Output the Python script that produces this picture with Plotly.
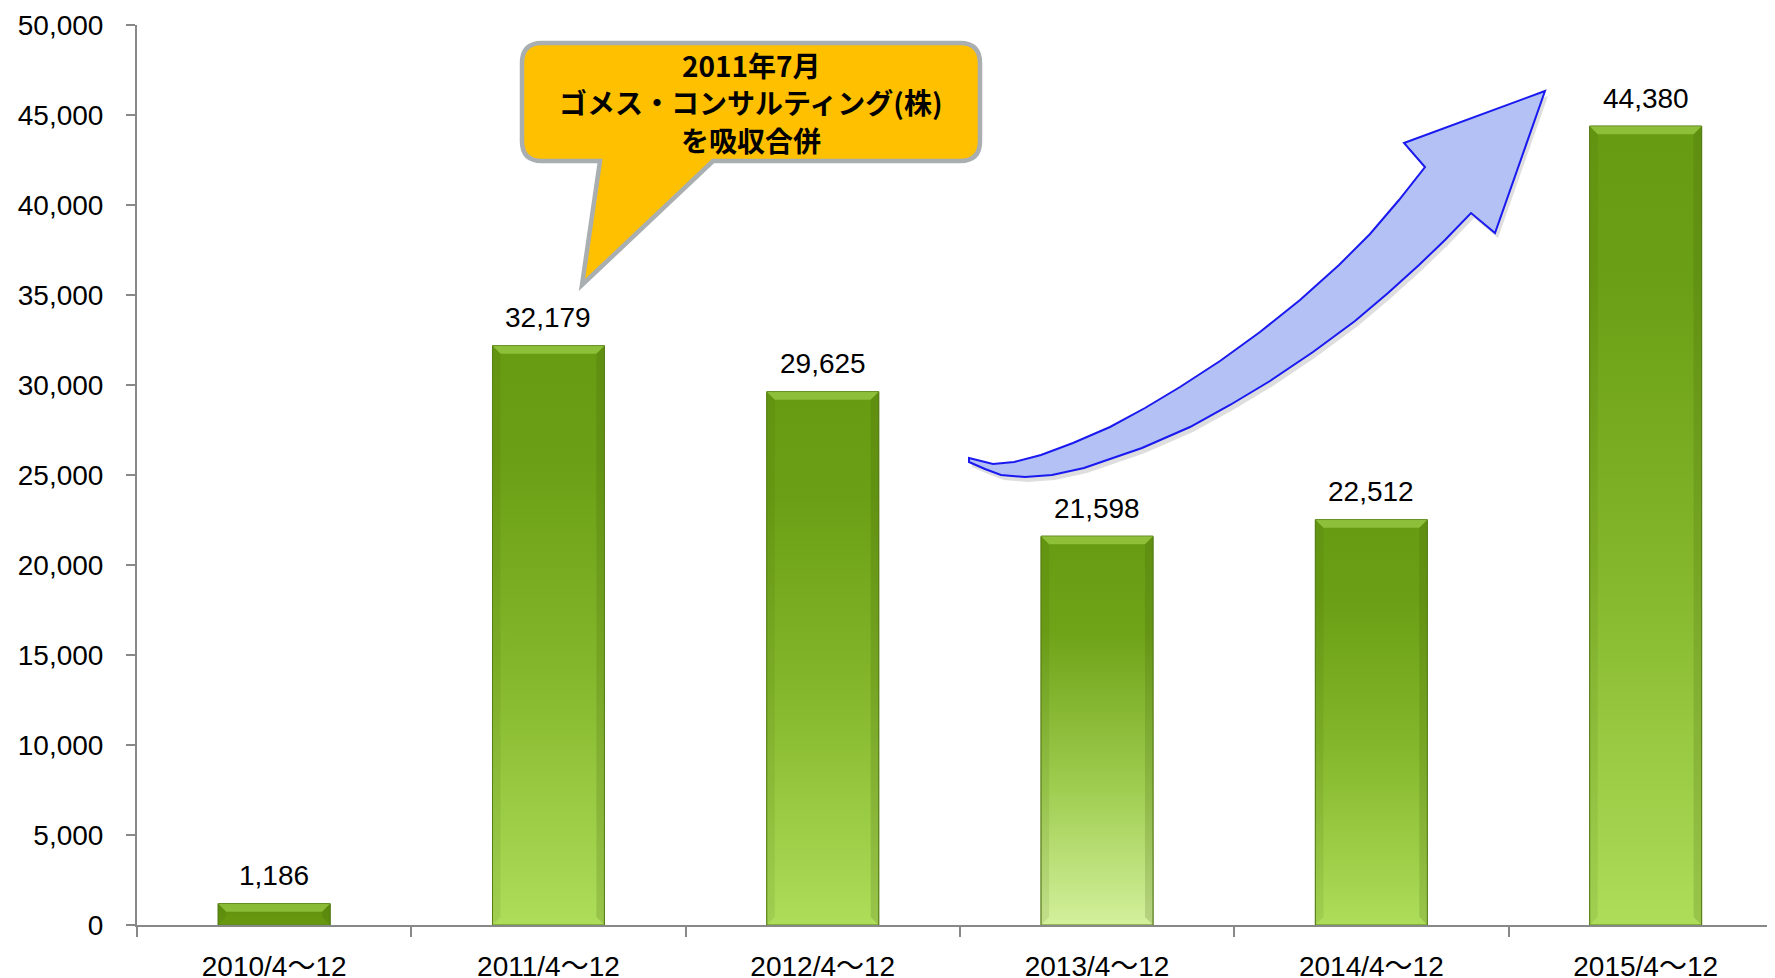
import plotly.graph_objects as go

# ---------------- data ----------------
categories = ["2010/4〜12", "2011/4〜12", "2012/4〜12", "2013/4〜12", "2014/4〜12", "2015/4〜12"]
values = [1186, 32179, 29625, 21598, 22512, 44380]
y_tickvals = [0, 5000, 10000, 15000, 20000, 25000, 30000, 35000, 40000, 45000, 50000]
callout_lines = ["2011年7月", "ゴメス・コンサルティング(株)", "を吸収合併"]

# ---------------- layout geometry ----------------
# the page body adds an 8px offset; the figure is sized/positioned to compensate
OFF = 8
WIN_W, WIN_H = 1775, 978
W, H = WIN_W - OFF, WIN_H - OFF
ML, MR, MT, MB = 137 - OFF, 0, 25 - OFF, 53
PW, PH = W - ML - MR, H - MT - MB
CAT_PX = 274.3
XMIN = -0.5
XMAX = XMIN + PW / CAT_PX
YMAX = 50000
BAR_W = 0.408

FONT = "Arial, 'Liberation Sans', 'Noto Sans CJK JP', sans-serif"
AXIS_COLOR = "#888888"

# per-bar gradient styles (bottom -> top)
STD = [[0, "#aedd5a"], [0.45, "#83b62a"], [0.8, "#6b9f15"], [1, "#679b12"]]
LIGHT = [[0, "#d3f09c"], [0.35, "#9fcd50"], [0.75, "#6fa318"], [1, "#679b12"]]
DARK = [[0, "#68990f"], [1, "#5f920e"]]
bar_styles = [DARK, STD, STD, LIGHT, STD, STD]


def px2paper(px, py):
    """window-pixel position (reference coordinates) -> paper coordinates"""
    fx, fy = px - OFF, py - OFF
    return (fx - ML) / PW, (H - MB - fy) / PH


def path_from_px(cmds):
    out = []
    for c in cmds:
        op = c[0]
        coords = []
        for (px, py) in c[1:]:
            x, y = px2paper(px, py)
            coords.append(f"{x:.5f},{y:.5f}")
        out.append(op + " " + " ".join(coords))
    return " ".join(out) + " Z"


fig = go.Figure()

xs = list(range(len(categories)))
fig.add_trace(go.Bar(
    x=xs, y=values, width=BAR_W,
    marker=dict(color="#7aad22", line=dict(color="#5b821a", width=1)),
    hoverinfo="x+y", showlegend=False,
))

# gradient overlays + bevels (computed from the bar values)
bx = 8 / CAT_PX
by = 8 * YMAX / PH
for i, v in enumerate(values):
    x0, x1 = i - BAR_W / 2, i + BAR_W / 2
    fig.add_trace(go.Scatter(
        x=[x0, x1, x1, x0, x0], y=[0, 0, v, v, 0],
        mode="lines", fill="toself",
        line=dict(color="#5b821a", width=1),
        fillgradient=dict(type="vertical", colorscale=bar_styles[i]),
        hoverinfo="skip", showlegend=False,
    ))
    fig.add_trace(go.Scatter(
        x=[x0, x1, x1 - bx, x0 + bx, x0], y=[v, v, v - by, v - by, v],
        mode="lines", fill="toself", line=dict(width=0),
        fillcolor="rgba(180,228,95,0.5)",
        hoverinfo="skip", showlegend=False,
    ))
    hb = min(by, v / 2)
    fig.add_trace(go.Scatter(
        x=[x1, x1, x1 - bx, x1 - bx, x1], y=[v, 0, hb, v - by, v],
        mode="lines", fill="toself", line=dict(width=0),
        fillcolor="rgba(60,90,10,0.18)",
        hoverinfo="skip", showlegend=False,
    ))
    fig.add_trace(go.Scatter(
        x=[x0, x0, x0 + bx, x0 + bx, x0], y=[v, 0, hb, v - by, v],
        mode="lines", fill="toself", line=dict(width=0),
        fillcolor="rgba(60,90,10,0.10)",
        hoverinfo="skip", showlegend=False,
    ))

annotations = []
for i, v in enumerate(values):
    annotations.append(dict(
        x=i, y=v, xref="x", yref="y", text=f"{v:,}", showarrow=False,
        yanchor="middle", yshift=28, font=dict(family=FONT, size=28, color="black"),
    ))

# callout text, one annotation per line
for line, ly in zip(callout_lines, [65, 102, 140]):
    cx, cy = px2paper(751, ly)
    annotations.append(dict(
        x=cx, y=cy, xref="paper", yref="paper", showarrow=False,
        text=line, xanchor="center", yanchor="middle",
        font=dict(family="'Noto Sans CJK JP', sans-serif", size=28, color="black", weight="bold"),
    ))

# ---------------- callout shape ----------------
bl, br, bt, bb, r = 522, 980, 43, 161, 20
callout_path = path_from_px([
    ("M", (bl + r, bt)),
    ("L", (br - r, bt)),
    ("Q", (br, bt), (br, bt + r)),
    ("L", (br, bb - r)),
    ("Q", (br, bb), (br - r, bb)),
    ("L", (713, bb)),
    ("L", (582, 285)),
    ("L", (600, bb)),
    ("L", (bl + r, bb)),
    ("Q", (bl, bb), (bl, bb - r)),
    ("L", (bl, bt + r)),
    ("Q", (bl, bt), (bl + r, bt)),
])

# ---------------- arrow shape ----------------
arrow_pts = [
    (969, 458), (993, 464), (1014, 462), (1041, 455), (1073, 443), (1110, 427),
    (1145, 408), (1180, 387), (1220, 361), (1260, 332), (1300, 300), (1339, 265),
    (1370, 234), (1399, 200), (1425, 167),
    (1404, 143), (1545, 91), (1495, 233), (1471, 213),
    (1445, 240), (1419, 265), (1388, 293), (1355, 321), (1313, 352), (1270, 381),
    (1230, 405), (1190, 427), (1142, 448), (1110, 459), (1084, 468), (1052, 475),
    (1025, 477), (1001, 475), (985, 469), (969, 462),
]


def poly_path(pts, dx=0, dy=0):
    cmds = [("M", (pts[0][0] + dx, pts[0][1] + dy))]
    for p in pts[1:]:
        cmds.append(("L", (p[0] + dx, p[1] + dy)))
    return path_from_px(cmds)


shapes = [
    dict(type="path", xref="paper", yref="paper", path=poly_path(arrow_pts, 3, 5),
         fillcolor="rgba(0,0,0,0.13)", line=dict(width=0), layer="above"),
    dict(type="path", xref="paper", yref="paper", path=poly_path(arrow_pts),
         fillcolor="#b3c1f4", line=dict(color="#1a1af0", width=2), layer="above"),
    dict(type="path", xref="paper", yref="paper", path=callout_path,
         fillcolor="#FFC000", line=dict(color="#a9aeb1", width=4.5), layer="above"),
]

fig.update_layout(
    width=W, height=H,
    margin=dict(l=ML, r=MR, t=MT, b=MB, pad=0, autoexpand=False),
    paper_bgcolor="white", plot_bgcolor="white",
    showlegend=False,
    font=dict(family=FONT, size=28, color="black"),
    annotations=annotations,
    shapes=shapes,
    xaxis=dict(
        range=[XMIN, XMAX], tickmode="array", tickvals=xs, ticktext=categories,
        ticks="", showgrid=False, zeroline=False, automargin=False,
        showline=True, linecolor=AXIS_COLOR, linewidth=2,
        tickfont=dict(family=FONT, size=28, color="black"),
        ticklabelstandoff=15,
        minor=dict(tickmode="array", tickvals=[k - 0.5 for k in range(len(categories) + 1)],
                   ticks="outside", ticklen=10, tickwidth=2, tickcolor=AXIS_COLOR, showgrid=False),
        fixedrange=True,
    ),
    yaxis=dict(
        range=[0, YMAX], tickmode="array", tickvals=y_tickvals,
        ticktext=[f"{t:,}" for t in y_tickvals],
        ticks="outside", ticklen=9, tickwidth=2, tickcolor=AXIS_COLOR,
        showline=True, linecolor=AXIS_COLOR, linewidth=2,
        showgrid=False, zeroline=False, automargin=False,
        tickfont=dict(family=FONT, size=28, color="black"),
        ticklabelstandoff=17,
        fixedrange=True,
    ),
)

fig.write_html("out.html")
